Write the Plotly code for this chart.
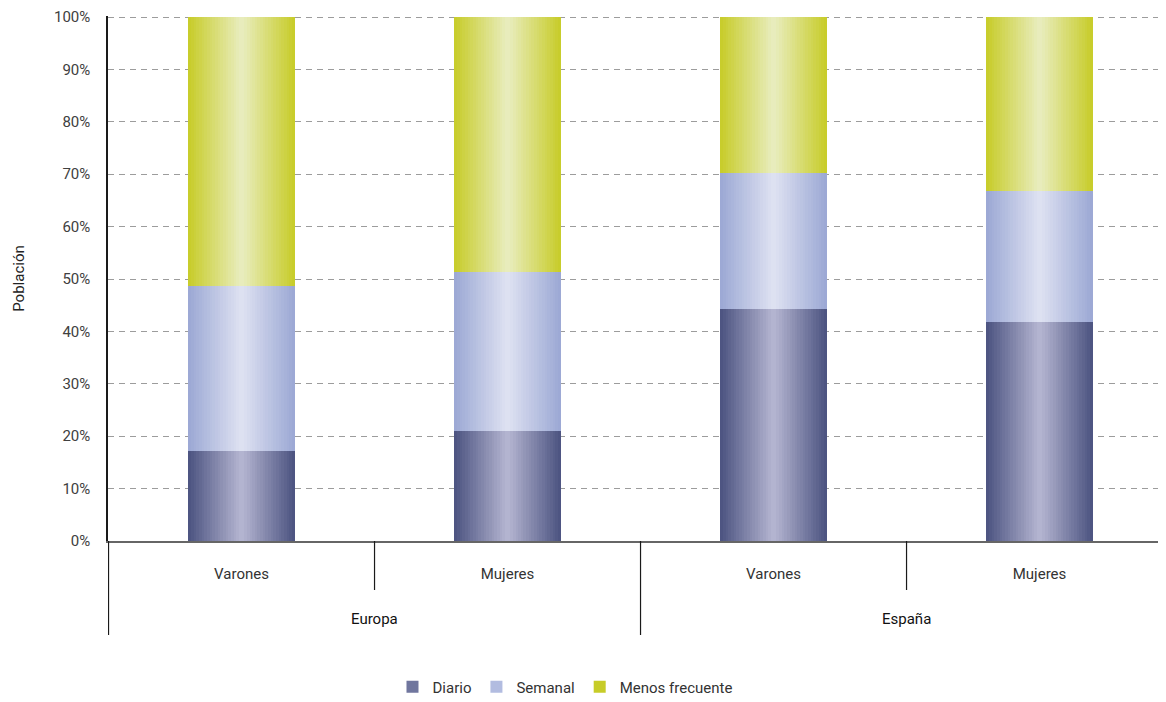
import plotly.graph_objects as go

# ---------------- data ----------------
regions = ["Europa", "Europa", "España", "España"]
sexes = ["Varones", "Mujeres", "Varones", "Mujeres"]
series_names = ["Diario", "Semanal", "Menos frecuente"]
diario = [17.2, 21.0, 44.3, 41.8]
semanal = [31.5, 30.3, 25.9, 25.0]
menos_frecuente = [51.3, 48.7, 29.8, 33.2]
y_ticks = [0, 10, 20, 30, 40, 50, 60, 70, 80, 90, 100]
y_ticktext = [f"{v}%" for v in y_ticks]

# ---------------- styles ----------------
edge_colors = [(75, 82, 128), (155, 168, 212), (199, 204, 40)]
center_colors = [(182, 183, 210), (223, 226, 242), (233, 237, 192)]
legend_colors = [(112, 118, 158), (178, 188, 224), (199, 204, 40)]
FONT = "Roboto, 'Noto Sans', sans-serif"
TXT = "#404040"
BAR_W = 0.4
N_STRIPS = 40


def rgb(c):
    return "rgb(%d,%d,%d)" % tuple(int(round(v)) for v in c)


def mix(a, b, t):
    return tuple(a[k] * (1 - t) + b[k] * t for k in range(3))


x = list(range(len(sexes)))
fig = go.Figure()

all_series = [diario, semanal, menos_frecuente]
bases = [[0.0] * len(x)]
for vals in all_series[:-1]:
    bases.append([b + v for b, v in zip(bases[-1], vals)])

for name, vals, base, edge, center, leg in zip(series_names, all_series, bases,
                                                 edge_colors, center_colors, legend_colors):
    # full-width underlay bar (also used as legend entry)
    fig.add_bar(x=x, y=vals, base=base, width=BAR_W, name=name, legendgroup=name,
                marker=dict(color=rgb(leg), line=dict(width=0)), hoverinfo="skip")
    step = BAR_W / N_STRIPS
    for i in range(N_STRIPS):
        t = (i + 0.5) / N_STRIPS
        d = abs(t - 0.5) * 2
        col = mix(center, edge, d)
        off = -BAR_W / 2 + i * step
        w = min(step * 1.6, BAR_W / 2 - off)
        fig.add_bar(x=x, y=vals, base=base, width=w, offset=off, showlegend=False,
                    legendgroup=name, marker=dict(color=rgb(col), line=dict(width=0)),
                    hoverinfo="skip")

# ---------------- category dividers ----------------
shapes = []
lo, hi = -0.502, 3.5055
for i in range(len(x) + 1):
    pos = i - 0.5
    if not (lo - 0.01 <= pos <= hi - 0.01):
        continue
    outer = i == 0 or i == len(x) or regions[i] != regions[i - 1]
    shapes.append(dict(type="line", xref="x", yref="paper", x0=pos, x1=pos,
                       y0=0, y1=-0.179 if outer else -0.0933,
                       line=dict(color="#1a1a1a", width=1.2)))

annotations = []
seen = []
for r in regions:
    if r not in seen:
        seen.append(r)
for r in seen:
    idx = [i for i, rr in enumerate(regions) if rr == r]
    annotations.append(dict(x=sum(idx) / len(idx), y=-0.1486, xref="x", yref="paper",
                            text=r, showarrow=False, yanchor="middle",
                            font=dict(family=FONT, size=15, color="#111")))

fig.update_layout(
    width=1166, height=702,
    margin=dict(l=100, r=0, t=8, b=169, autoexpand=False),
    barmode="overlay", bargap=0,
    plot_bgcolor="white", paper_bgcolor="white",
    font=dict(family=FONT, size=15, color=TXT),
    shapes=shapes, annotations=annotations,
    legend=dict(orientation="h", x=0.4287, y=-0.278, xanchor="center", yanchor="middle",
                font=dict(family=FONT, size=15, color="#333"), traceorder="normal",
                itemclick=False),
    xaxis=dict(range=[lo, hi], tickmode="array", tickvals=x, ticktext=sexes,
               showgrid=False, zeroline=False, showline=True, linecolor="#666666",
               linewidth=2, ticks="", ticklabelstandoff=18, automargin=False,
               tickfont=dict(family=FONT, size=15, color="#333")),
    yaxis=dict(range=[0, 100.2], tickmode="array", tickvals=y_ticks, ticktext=y_ticktext,
               showgrid=True, gridcolor="#9c9c9c", gridwidth=1.2, griddash="6px,5px",
               zeroline=False, showline=True, linecolor="#1a1a1a", linewidth=1.5,
               ticks="", ticklabelstandoff=13, automargin=False,
               tickfont=dict(family=FONT, size=15, color=TXT),
               title=dict(text="Población", standoff=26,
                          font=dict(family=FONT, size=15, color="#222"))),
)

fig.write_html("out.html")
